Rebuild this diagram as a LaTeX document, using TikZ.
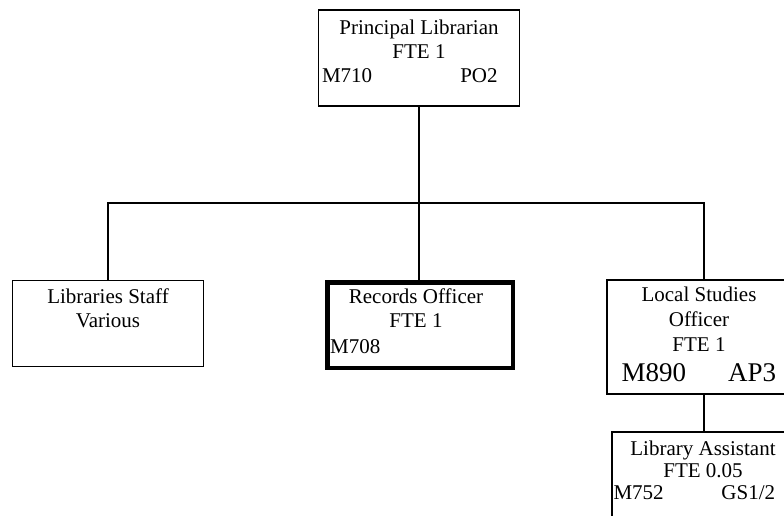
\documentclass[tikz,border=0pt]{standalone}
\usepackage{fontspec}
\setmainfont{Liberation Serif}
\usetikzlibrary{positioning,calc}
\tikzset{
  post/.style={draw, line width=1.4pt, inner sep=0pt},
  keypost/.style={post, line width=4.5pt},
  title/.style={font=\fontsize{21}{24}\selectfont, align=center, inner sep=0pt},
  grade/.style={font=\fontsize{21}{24}\selectfont, inner sep=0pt},
  biggrade/.style={font=\fontsize{27}{30}\selectfont, inner sep=0pt},
  link/.style={line width=1.4pt}
}

\begin{document}
\begin{tikzpicture}[x=1pt,y=-1pt]
  \useasboundingbox (0,0) rectangle (784,516);
  % posts
  \node[post, minimum width=201pt, minimum height=96pt] (head) at (419,58) {};
  \node[post, minimum width=191pt, minimum height=86pt] (staff) at (108,323.5) {};
  \node[keypost, minimum width=185.5pt, minimum height=85.5pt] (records) at (420,325) {};
  \node[post, minimum width=188pt, minimum height=114pt] (local) at (701,337) {};
  \node[post, minimum width=188pt, minimum height=100pt] (assist) at (706,482) {};
  % names and grades
  \node[title, below=10pt of head.north] (headname) {Principal Librarian\\FTE 1};
  \node[grade, anchor=base west] (headgrade) at ($(head.north west)+(4,73)$) {M710};
  \node[grade, anchor=base east] (headband) at ($(head.north west)+(180,73)$) {PO2};
  \node[title, below=8.5pt of staff.north] (staffname) {Libraries Staff\\Various};
  \node[title, below=8.5pt of records.north, xshift=-4pt] (recordsname) {Records Officer\\FTE 1};
  \node[grade, anchor=base west] (recordsgrade) at ($(records.north west)+(5,73)$) {M708};
  \node[title, below=7.5pt of local.north, xshift=-2pt, font=\fontsize{21}{25}\selectfont] (localname) {Local Studies\\Officer\\FTE 1};
  \node[biggrade, anchor=base west] (localgrade) at ($(local.north west)+(15,102)$) {M890};
  \node[biggrade, anchor=base east] (localband) at ($(local.north west)+(170,102)$) {AP3};
  \node[title, below=9.5pt of assist.north, xshift=-3pt, font=\fontsize{21}{22}\selectfont] (assistname) {Library Assistant\\FTE 0.05};
  \node[grade, anchor=base west] (assistgrade) at ($(assist.north west)+(2,68)$) {M752};
  \node[grade, anchor=base east] (assistband) at ($(assist.north west)+(164,68)$) {GS1/2};
  % reporting lines
  \coordinate (busleft) at (108,203);
  \coordinate (busright) at (704,203);
  \draw[link] (head.south) -- (head.south |- records.north);
  \draw[link] (busleft |- staff.north) -- (busleft) -- (busright) -- (busright |- local.north);
  \draw[link] (busright |- local.south) -- (busright |- assist.north);
\end{tikzpicture}
\end{document}
